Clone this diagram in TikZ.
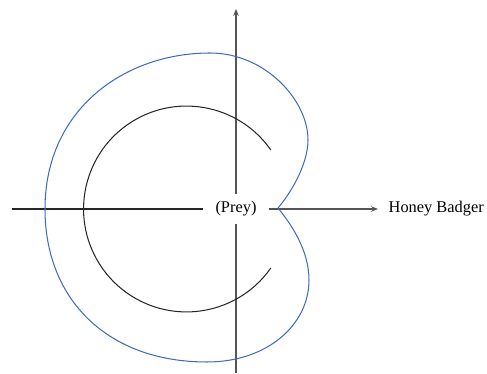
\documentclass[tikz,border=0pt]{standalone}
\usepackage{fontspec}
\setmainfont{Liberation Serif}
\usepackage{xcolor}
\usepackage{tikz}
\usetikzlibrary{arrows.meta, positioning}

\definecolor{pathblue}{RGB}{62,108,188}
\definecolor{axisgray}{RGB}{85,85,85}

\begin{document}
\begin{tikzpicture}[x=0.58pt, y=0.58pt,
  lab/.style={font=\fontsize{9.5}{11}\selectfont, inner xsep=7pt, inner ysep=4.1pt},
  axis/.style={draw=axisgray, line width=0.75pt},
  tip/.style={-{Stealth[length=4pt, width=3.2pt]}}]
  \useasboundingbox (0,0) rectangle (487,374);
  \node[lab] (prey) at (236,165) {(Prey)};
  \node[lab, anchor=west, inner xsep=6pt] (badger) at (378,165) {Honey Badger};
  \coordinate (west) at (12,165);
  \coordinate (top) at (236,365);
  \coordinate (bottom) at (236,1);
  % axes
  \draw[line width=0.6pt, black!85] (west) -- (prey);
  \draw[axis, tip] (prey) -- (badger);
  \draw[axis] (bottom) -- (prey);
  \draw[axis, tip] (prey) -- (top);
  % circle round the prey
  \draw[line width=0.6pt, black!85] (186.5,165) ++(35:59.7pt) arc[start angle=35, end angle=325, radius=59.7pt];
  % path of the badger
  \draw[pathblue, line width=0.6pt] (278,166)
    .. controls (290,180) and (308,209) .. (308,234)
    .. controls (308,274) and (265,321) .. (210,321)
    .. controls (125,321) and (45,265) .. (45,165)
    .. controls (45,75) and (107,12) .. (207,12)
    .. controls (267,12) and (309,49) .. (309,94)
    .. controls (309,124) and (291,150) .. (278,166);
\end{tikzpicture}
\end{document}
